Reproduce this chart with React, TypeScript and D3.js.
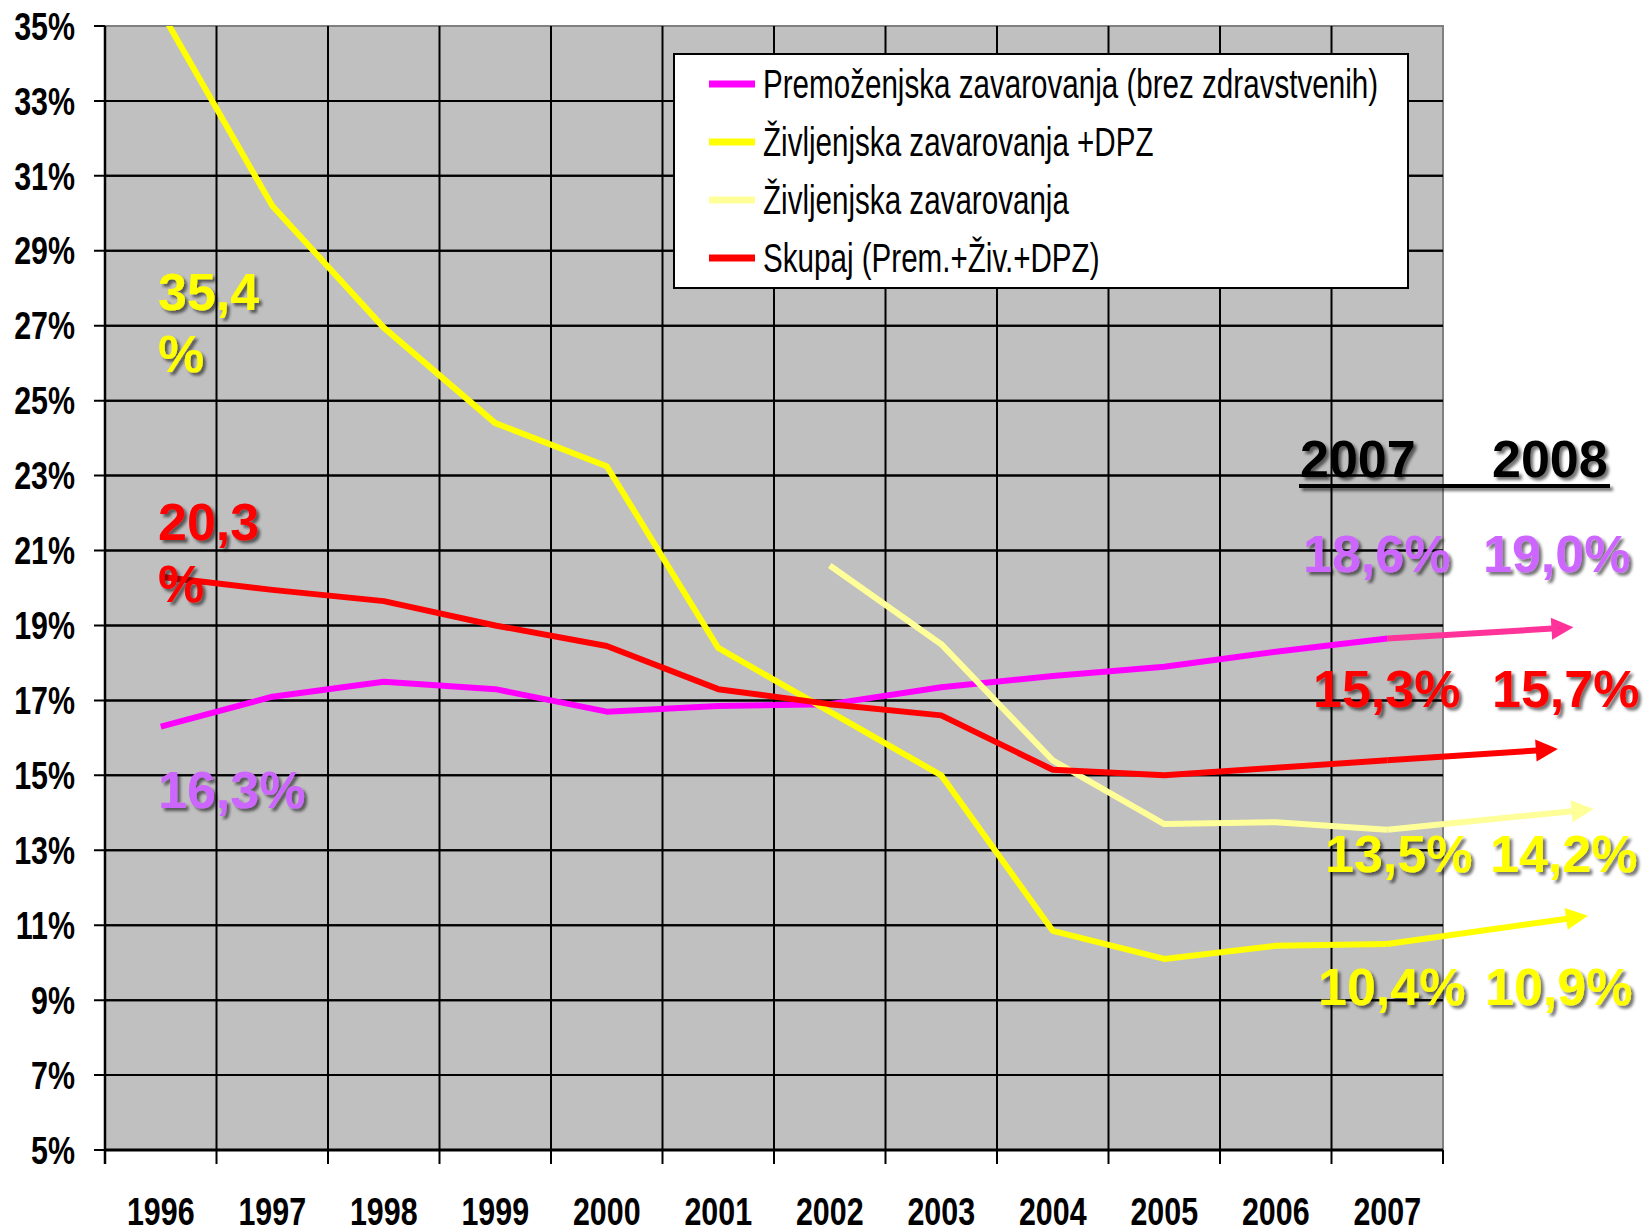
import * as d3 from 'd3';

const years = ['1996', '1997', '1998', '1999', '2000', '2001', '2002', '2003', '2004', '2005', '2006', '2007'];
const yTicks = [5, 7, 9, 11, 13, 15, 17, 19, 21, 23, 25, 27, 29, 31, 33, 35];

// shares in %
const premozenjska = [16.3, 17.1, 17.5, 17.3, 16.7, 16.85, 16.9, 17.35, 17.65, 17.9, 18.3, 18.65];
const zivljenjskaDpz = [35.4, 30.2, 26.95, 24.4, 23.25, 18.4, 16.7, 15.0, 10.85, 10.1, 10.45, 10.5];
const zivljenjska = [null, null, null, null, null, null, 20.6, 18.5, 15.4, 13.7, 13.75, 13.55];
const skupaj = [20.3, 19.95, 19.65, 19.0, 18.45, 17.3, 16.9, 16.6, 15.15, 15.0, 15.2, 15.4];

// 2008 forecast, as drawn by the arrows and as labelled
const arrowEnd = [18.95, 15.7, 14.1, 11.25];
const labels2007 = ['18,6%', '15,3%', '13,5%', '10,4%'];
const labels2008 = ['19,0%', '15,7%', '14,2%', '10,9%'];

const legendNames = [
  'Premoženjska zavarovanja (brez zdravstvenih)',
  'Življenjska zavarovanja +DPZ',
  'Življenjska zavarovanja',
  'Skupaj (Prem.+Živ.+DPZ)',
];

const W = 1651;
const H = 1229;
const left = 105;
const right = 1443;
const top = 26;
const bottom = 1150;

// no Arial Narrow here, so squeeze Liberation Sans horizontally
const font = "'Liberation Sans', Arial, sans-serif";

export default function App() {
  const x = d3.scaleBand().domain(years).range([left, right]);
  const bw = x.bandwidth();
  const cx = (yr: string) => (x(yr) as number) + bw / 2;
  const y = d3.scaleLinear().domain([5, 35]).range([bottom, top]);

  const line = d3
    .line<number | null>()
    .defined((d) => d != null)
    .x((_, i) => cx(years[i]))
    .y((d) => y(d as number));

  // drawing order + styles
  const series = [
    { values: premozenjska, color: '#FF00FF', arrow: '#FF3399', reach: 1.67, idx: 0 },
    { values: zivljenjskaDpz, color: '#FFFF00', arrow: '#FFFF00', reach: 1.8, idx: 3 },
    { values: zivljenjska, color: '#FFFF99', arrow: '#FFFF99', reach: 1.85, idx: 2 },
    { values: skupaj, color: '#FF0000', arrow: '#FF0000', reach: 1.53, idx: 1 },
  ];
  const legendColors = ['#FF00FF', '#FFFF00', '#FFFF99', '#FF0000'];

  const last = years[years.length - 1];
  const x0 = cx(last);

  const valueLabels = [
    { color: '#CC66FF', base: 572, x1: 1303, x2: 1483 },
    { color: '#FF0000', base: 707, x1: 1313, x2: 1492 },
    { color: '#FFFF00', base: 872, x1: 1325, x2: 1490 },
    { color: '#FFFF00', base: 1005, x1: 1318, x2: 1485 },
  ];

  const arrowFor = (s: typeof series[number]) => {
    const v0 = s.values[s.values.length - 1] as number;
    const x1 = x0 + bw * s.reach;
    const y0 = y(v0);
    const y1 = y(arrowEnd[s.idx]);
    const ang = Math.atan2(y1 - y0, x1 - x0);
    const hl = 22;
    const hw = 11;
    const bx = x1 - hl * Math.cos(ang);
    const by = y1 - hl * Math.sin(ang);
    const px = -Math.sin(ang) * hw;
    const py = Math.cos(ang) * hw;
    return (
      <g key={'arr' + s.idx}>
        <line x1={x0} y1={y0} x2={bx + Math.cos(ang)} y2={by + Math.sin(ang)} stroke={s.arrow} strokeWidth={6} />
        <polygon points={`${x1},${y1} ${bx + px},${by + py} ${bx - px},${by - py}`} fill={s.arrow} />
      </g>
    );
  };

  return (
    <svg width={W} height={H} style={{ position: 'absolute', left: 0, top: 0, background: '#fff' }}>
      <defs>
        <clipPath id="plot">
          <rect x={left} y={top} width={right - left} height={bottom - top} />
        </clipPath>
        <filter id="shadow" x="-10%" y="-10%" width="130%" height="140%">
          <feDropShadow dx={3} dy={3} stdDeviation={1.5} floodColor="#000" floodOpacity={0.55} />
        </filter>
      </defs>

      {/* plot background */}
      <rect x={left} y={top} width={right - left} height={bottom - top} fill="#C0C0C0" stroke="#808080" strokeWidth={2} />

      {/* horizontal grid + y ticks */}
      {yTicks.map((t) => (
        <line key={'h' + t} x1={left - 11} x2={t === 5 || t === 35 ? left : right} y1={y(t)} y2={y(t)} stroke="#000" strokeWidth={2} />
      ))}
      {yTicks.slice(1, -1).map((t) => (
        <line key={'hg' + t} x1={left} x2={right} y1={y(t)} y2={y(t)} stroke="#000" strokeWidth={2} />
      ))}
      {/* vertical grid + ticks */}
      {years.slice(1).map((yr) => (
        <line key={'v' + yr} x1={x(yr)} x2={x(yr)} y1={top} y2={bottom + 14} stroke="#000" strokeWidth={2} />
      ))}
      <line x1={left} x2={left} y1={top} y2={bottom + 14} stroke="#000" strokeWidth={2.5} />
      <line x1={right} x2={right} y1={bottom} y2={bottom + 14} stroke="#000" strokeWidth={2} />
      <line x1={left} x2={right} y1={bottom} y2={bottom} stroke="#000" strokeWidth={3} />

      {/* y labels */}
      {yTicks.map((t) => (
        <text
          key={'yl' + t}
          transform={`translate(75,${y(t)}) scale(0.8,1)`}
          dy="0.36em"
          textAnchor="end"
          fontFamily={font}
          fontWeight="bold"
          fontSize={38}
        >
          {t}%
        </text>
      ))}
      {/* x labels */}
      {years.map((yr) => (
        <text
          key={'xl' + yr}
          transform={`translate(${cx(yr)},1225) scale(0.78,1)`}
          textAnchor="middle"
          fontFamily={font}
          fontWeight="bold"
          fontSize={39}
        >
          {yr}
        </text>
      ))}

      {/* series lines */}
      <g clipPath="url(#plot)">
        {series.map((s) => (
          <path key={'s' + s.idx} d={line(s.values) || ''} fill="none" stroke={s.color} strokeWidth={6} strokeLinejoin="round" />
        ))}
      </g>

      {/* 2008 arrows */}
      {series.map((s) => arrowFor(s))}

      {/* legend */}
      <rect x={674} y={54} width={734} height={234} fill="#fff" stroke="#000" strokeWidth={2} />
      {legendNames.map((n, i) => (
        <g key={'lg' + i}>
          <line x1={709} x2={755} y1={84 + i * 58} y2={84 + i * 58} stroke={legendColors[i]} strokeWidth={7} />
          <text transform={`translate(763,${98 + i * 58}) scale(0.74,1)`} fontFamily={font} fontSize={40} fill="#000">
            {n}
          </text>
        </g>
      ))}

      {/* annotations */}
      <g fontFamily={font} fontWeight="bold" fontSize={52} filter="url(#shadow)">
        <text x={158} y={310} fill="#FFFF00">35,4</text>
        <text x={158} y={372} fill="#FFFF00">%</text>
        <text x={158} y={540} fill="#FF0000">20,3</text>
        <text x={158} y={602} fill="#FF0000">%</text>
        <text x={158} y={808} fill="#CC66FF">16,3%</text>
        <text x={1300} y={477} fill="#000">2007</text>
        <text x={1492} y={477} fill="#000">2008</text>
        {valueLabels.map((l, i) => (
          <g key={'vl' + i}>
            <text x={l.x1} y={l.base} fill={l.color}>{labels2007[i]}</text>
            <text x={l.x2} y={l.base} fill={l.color}>{labels2008[i]}</text>
          </g>
        ))}
        <line x1={1299} x2={1610} y1={486} y2={486} stroke="#000" strokeWidth={4} />
      </g>
    </svg>
  );
}
